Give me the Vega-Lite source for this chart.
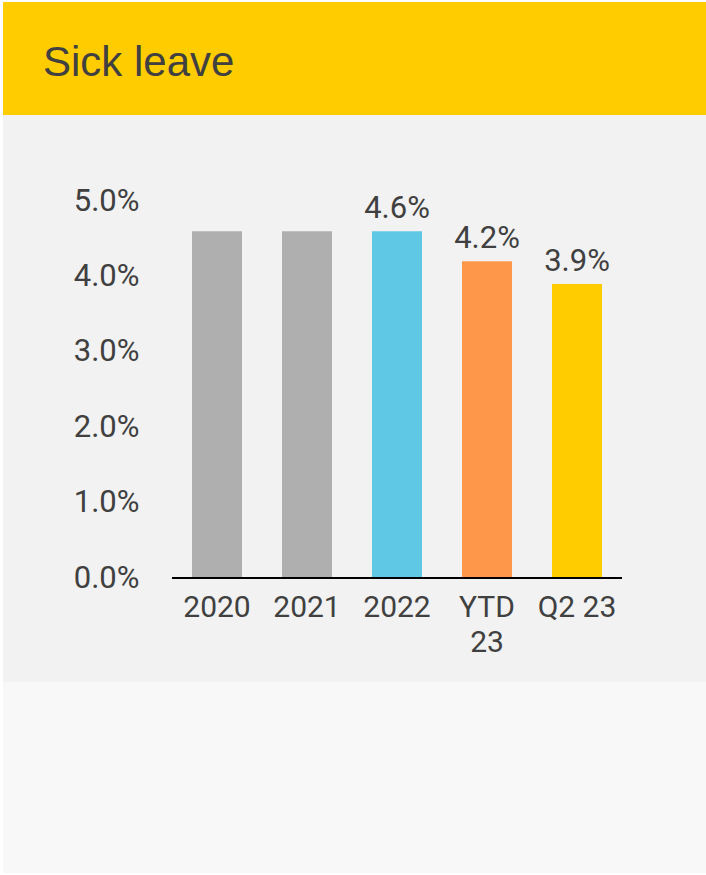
{
  "$schema": "https://vega.github.io/schema/vega-lite/v6.json",
  "background": "#ffffff",
  "padding": {"left": 3, "top": 2, "right": 0, "bottom": 2},
  "spacing": 0,
  "bounds": "flush",
  "config": {"view": {"stroke": null}},
  "vconcat": [
    {
      "width": 703,
      "height": 113,
      "view": {"fill": "#FFCC00", "stroke": null},
      "data": {"values": [{"heading": "Sick leave"}]},
      "mark": {
        "type": "text",
        "align": "left",
        "baseline": "alphabetic",
        "dx": -311.5,
        "dy": 17.5,
        "font": "Liberation Sans",
        "fontSize": 42,
        "color": "#404040"
      },
      "encoding": {"text": {"field": "heading"}}
    },
    {
      "width": 703,
      "height": 567,
      "view": {"fill": "#f2f2f2", "stroke": null},
      "data": {
        "values": [
          {"period": "2020", "rate": 0.046, "group": "past", "label": ""},
          {"period": "2021", "rate": 0.046, "group": "past", "label": ""},
          {"period": "2022", "rate": 0.046, "group": "2022", "label": "4.6%"},
          {"period": "YTD 23", "rate": 0.042, "group": "ytd", "label": "4.2%"},
          {"period": "Q2 23", "rate": 0.039, "group": "q2", "label": "3.9%"}
        ]
      },
      "encoding": {
        "x": {
          "field": "period",
          "type": "nominal",
          "sort": null,
          "scale": {"range": [169, 619], "paddingInner": 0.4444, "paddingOuter": 0.2222},
          "axis": {
            "title": null,
            "domain": false,
            "ticks": false,
            "tickSize": 0,
            "labelPadding": 14,
            "offset": -104,
            "labelAngle": 0,
            "labelOverlap": false,
            "labelFont": "Roboto",
            "labelFontSize": 30,
            "labelColor": "#404040",
            "labelLineHeight": 35,
            "labelBaseline": "top",
            "labelExpr": "datum.value == 'YTD 23' ? ['YTD', '23'] : datum.label"
          }
        },
        "y": {
          "field": "rate",
          "type": "quantitative",
          "scale": {"domain": [-0.01379, 0.06141], "nice": false, "zero": false},
          "axis": {
            "title": null,
            "domain": false,
            "ticks": false,
            "tickSize": 0,
            "grid": false,
            "labelPadding": 0,
            "offset": -136,
            "values": [0, 0.01, 0.02, 0.03, 0.04, 0.05],
            "format": ".1%",
            "labelFont": "Roboto",
            "labelFontSize": 31,
            "labelColor": "#404040"
          }
        }
      },
      "layer": [
        {
          "mark": {"type": "bar"},
          "encoding": {
            "color": {
              "field": "group",
              "type": "nominal",
              "scale": {"domain": ["past", "2022", "ytd", "q2"], "range": ["#afafaf", "#5fc8e4", "#ff974a", "#ffcc00"]},
              "legend": null
            }
          }
        },
        {
          "mark": {"type": "rule", "color": "#000000", "strokeWidth": 2},
          "encoding": {
            "x": {"field": "period", "type": "nominal", "sort": null, "bandPosition": -0.4},
            "x2": {"field": "period", "bandPosition": 1.4},
            "y": {"datum": 0}
          }
        },
        {
          "mark": {"type": "text", "baseline": "alphabetic", "dy": -13, "font": "Roboto", "fontSize": 31, "color": "#404040"},
          "encoding": {"text": {"field": "label"}}
        }
      ]
    },
    {
      "width": 703,
      "height": 191,
      "view": {"fill": "#f8f8f8", "stroke": null},
      "data": {"values": []},
      "mark": "point"
    }
  ]
}
